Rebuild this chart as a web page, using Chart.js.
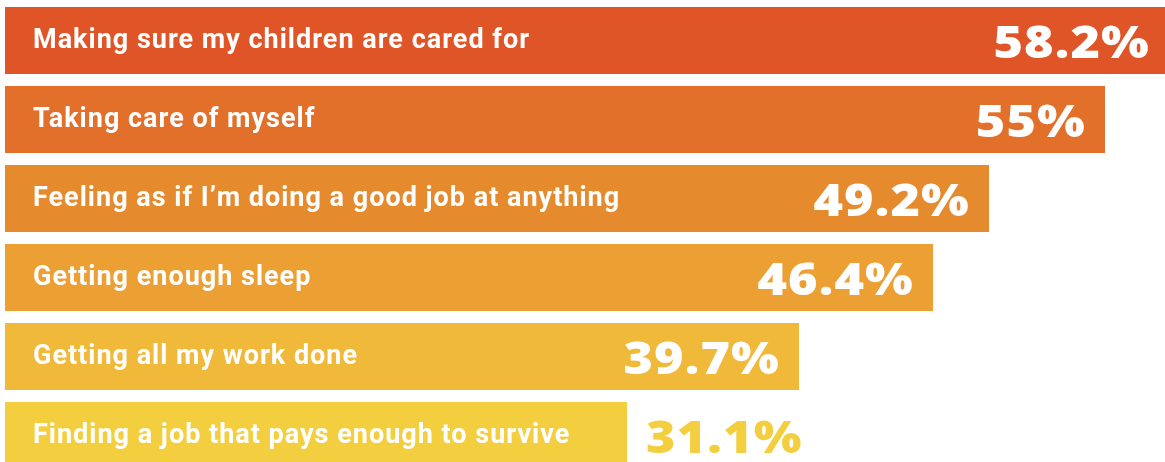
<!DOCTYPE html>
<html>
<head>
<meta charset="utf-8">
<script src="https://cdn.jsdelivr.net/npm/chart.js@4.4.1/dist/chart.umd.min.js"></script>
<style>
  html, body { margin: 0; padding: 0; background: #fff; overflow: hidden; }
  #wrap { position: relative; width: 1165px; height: 476px; }
</style>
</head>
<body>
<div id="wrap"><canvas id="chart"></canvas></div>
<script>
// data
const categories = [
  'Making sure my children are cared for',
  'Taking care of myself',
  'Feeling as if I\u2019m doing a good job at anything',
  'Getting enough sleep',
  'Getting all my work done',
  'Finding a job that pays enough to survive'
];
const values = [58.2, 55, 49.2, 46.4, 39.7, 31.1];
const valueLabels = ['58.2%', '55%', '49.2%', '46.4%', '39.7%', '31.1%'];
const barColors = ['#E05527', '#E2702A', '#E68A2E', '#EC9F33', '#F0B93A', '#F3CF3F'];

// labels drawn on top of the bars
const barLabels = {
  id: 'barLabels',
  afterDatasetsDraw(chart) {
    const ctx = chart.ctx;
    const meta = chart.getDatasetMeta(0);
    const sx = 1.12;
    meta.data.forEach((bar, i) => {
      const left = bar.base;
      const right = Math.min(bar.x, chart.chartArea.right);
      ctx.save();
      // category name
      ctx.font = 'bold 27px Roboto';
      ctx.letterSpacing = '1px';
      ctx.fillStyle = '#fff';
      ctx.textAlign = 'left';
      ctx.textBaseline = 'alphabetic';
      ctx.fillText(categories[i], left + 28, bar.y + 7);
      // value, stretched a little to look like the wide original face
      ctx.font = '800 45px "Open Sans"';
      ctx.letterSpacing = '1px';
      const inside = i < values.length - 1;
      let xPos;
      if (inside) {
        ctx.fillStyle = '#fff';
        ctx.textAlign = 'right';
        xPos = right - (i === 0 ? 15 : 19);
      } else {
        ctx.fillStyle = barColors[i];
        ctx.textAlign = 'left';
        xPos = right + 19;
      }
      ctx.translate(xPos, bar.y + 17);
      ctx.scale(sx, 1);
      ctx.fillText(valueLabels[i], 0, 0);
      ctx.restore();
    });
  }
};

new Chart(document.getElementById('chart'), {
  type: 'bar',
  data: {
    labels: categories,
    datasets: [{
      data: values,
      backgroundColor: barColors,
      borderWidth: 0,
      barPercentage: 67 / 79,
      categoryPercentage: 1
    }]
  },
  options: {
    indexAxis: 'y',
    responsive: true,
    maintainAspectRatio: false,
    animation: false,
    layout: { padding: { left: 5, right: 0, top: 1, bottom: 1 } },
    scales: {
      x: { display: false, min: 0, max: 58 },
      y: { display: false }
    },
    plugins: {
      legend: { display: false },
      tooltip: { enabled: false }
    }
  },
  plugins: [barLabels]
});
</script>
</body>
</html>
